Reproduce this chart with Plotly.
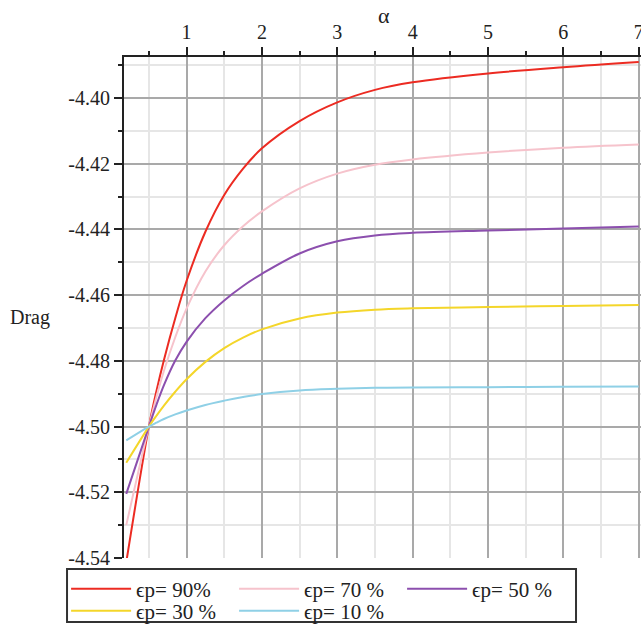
import plotly.graph_objects as go

alpha = [0.2, 0.5, 0.6, 0.7, 0.85, 1.0, 1.25, 1.5, 1.75, 2.0, 2.5, 3.0, 3.5, 4, 5, 6, 7]
ep90 = [-4.5413, -4.500, -4.4892, -4.4797, -4.4670, -4.4557, -4.4407, -4.4295, -4.4215, -4.4153,
        -4.4070, -4.4013, -4.3975, -4.3952, -4.3925, -4.3906, -4.3890]
ep70 = [-4.5300, -4.500, -4.4910, -4.4830, -4.4728, -4.4641, -4.4528, -4.4448, -4.4390, -4.4345,
        -4.4275, -4.4230, -4.4203, -4.4187, -4.4166, -4.4151, -4.4141]
ep50 = [-4.5205, -4.500, -4.4934, -4.4874, -4.4799, -4.4742, -4.4670, -4.4616, -4.4572, -4.4535,
        -4.4473, -4.4436, -4.4418, -4.4410, -4.4403, -4.4397, -4.4391]
ep30 = [-4.5110, -4.500, -4.4967, -4.4936, -4.4894, -4.4856, -4.4803, -4.4761, -4.4729, -4.4704,
        -4.4671, -4.4653, -4.4644, -4.4640, -4.4636, -4.4633, -4.4630]
ep10 = [-4.5042, -4.500, -4.4988, -4.4977, -4.4963, -4.4951, -4.4934, -4.4921, -4.4910, -4.4901,
        -4.4890, -4.4885, -4.4882, -4.4881, -4.4880, -4.4879, -4.4878]

names = ["ϵp= 90%", "ϵp= 70 %", "ϵp= 50 %", "ϵp= 30 %", "ϵp= 10 %"]
series = [ep90, ep70, ep50, ep30, ep10]
colors = ["#ec2b22", "#f6c3cc", "#8c4fae", "#f4d62a", "#8fd0e6"]
legend_rows = ["legend", "legend", "legend", "legend2", "legend2"]

y_ticks = [-4.54, -4.52, -4.50, -4.48, -4.46, -4.44, -4.42, -4.40]
y_ticktext = ["-4.54", "-4.52", "-4.50", "-4.48", "-4.46", "-4.44", "-4.42", "-4.40"]
x_ticks = [1, 2, 3, 4, 5, 6, 7]

FONT = "Liberation Serif, Times New Roman, serif"

fig = go.Figure()
for n, s, c, lg in zip(names, series, colors, legend_rows):
    fig.add_trace(go.Scatter(x=alpha, y=s, name=n, mode="lines", legend=lg,
                             line=dict(color=c, width=2, shape="spline", smoothing=1.0)))

leg_common = dict(orientation="h", xanchor="left", yanchor="middle",
                  borderwidth=0, bgcolor="rgba(0,0,0,0)",
                  font=dict(family=FONT, size=21, color="#222"),
                  entrywidth=93, entrywidthmode="pixels", itemwidth=60,
                  tracegroupgap=0, traceorder="normal")

fig.update_layout(
    width=641, height=631,
    margin=dict(l=124, r=0, t=57, b=73, autoexpand=False),
    paper_bgcolor="white", plot_bgcolor="white",
    font=dict(family=FONT, size=20, color="#222"),
    showlegend=True,
    legend=dict(x=-0.112, y=-0.0619, **leg_common),
    legend2=dict(x=-0.112, y=-0.1058, **leg_common),
    shapes=[dict(type="rect", xref="paper", yref="paper",
                 x0=-0.1102, x1=0.8743, y0=-0.1277, y1=-0.022,
                 line=dict(color="#333", width=2), fillcolor="rgba(0,0,0,0)", layer="above")],
    xaxis=dict(side="top", range=[0.17, 7.03], tickmode="array", tickvals=x_ticks,
               ticklabeloverflow="allow",
               showline=True, linecolor="#222", linewidth=2,
               ticks="outside", ticklen=8, tickwidth=2, tickcolor="#222",
               showgrid=True, gridcolor="#a9a9a9", gridwidth=1.5, zeroline=False,
               minor=dict(tickmode="linear", tick0=0, dtick=0.5, ticks="outside", ticklen=4,
                          tickwidth=2, tickcolor="#222", showgrid=True,
                          gridcolor="#e6e6e6", gridwidth=1.5)),
    yaxis=dict(range=[-4.54, -4.3875], tickmode="array", tickvals=y_ticks, ticktext=y_ticktext,
               showline=True, linecolor="#222", linewidth=2,
               ticks="outside", ticklen=8, tickwidth=2, tickcolor="#222",
               showgrid=True, gridcolor="#a9a9a9", gridwidth=1.5, zeroline=False,
               minor=dict(tickmode="linear", tick0=-4.54, dtick=0.01, ticks="outside", ticklen=4,
                          tickwidth=2, tickcolor="#222", showgrid=True,
                          gridcolor="#e6e6e6", gridwidth=1.5)),
    annotations=[
        dict(text="α", xref="paper", yref="paper", x=0.503, y=1.083, showarrow=False,
             xanchor="center", yanchor="middle",
             font=dict(family=FONT, size=22, color="#222")),
        dict(text="Drag", xref="paper", yref="paper", x=-0.182, y=0.481, showarrow=False,
             xanchor="center", yanchor="middle",
             font=dict(family=FONT, size=20, color="#222")),
    ],
)

fig.write_html("out.html",
               config={"displayModeBar": False},
               post_script="document.body.style.margin='0px';"
                           "document.documentElement.style.overflow='hidden';"
                           "document.body.style.overflow='hidden';")
